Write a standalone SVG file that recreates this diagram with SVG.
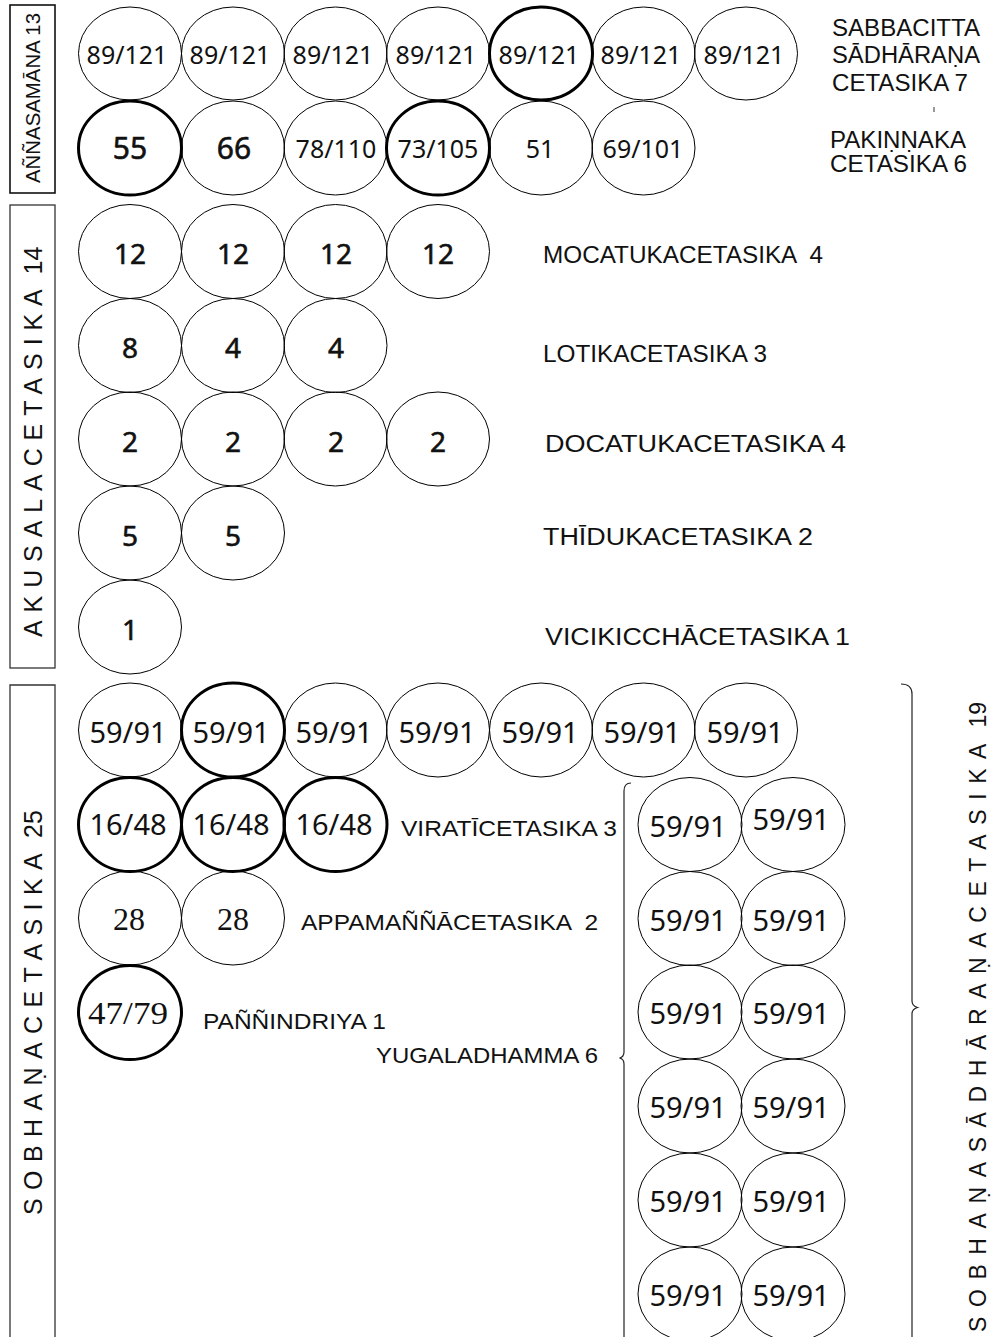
<svg xmlns="http://www.w3.org/2000/svg" width="997" height="1337" viewBox="0 0 997 1337">
<style>
  .c{fill:none;stroke:#000;stroke-width:1}
  .ct{fill:none;stroke:#000;stroke-width:3}
  .box{fill:none;stroke:#333;stroke-width:1.3}
  .n{font-family:"Noto Sans","Open Sans",sans-serif;text-anchor:middle;fill:#111}
  .n25{font-size:25px}
  .n30{font-size:30px;stroke:#111;stroke-width:0.6}
  .n27{font-size:28px;stroke:#111;stroke-width:0.6}
  .n29{font-size:29px}
  .s{font-family:"Liberation Serif","Times New Roman",serif;font-size:32px;text-anchor:middle;fill:#111}
  .l{font-family:"Liberation Sans",Arial,sans-serif;font-size:23.5px;fill:#111;white-space:pre}
  .ls{font-family:"Liberation Sans",Arial,sans-serif;font-size:22px;fill:#111;white-space:pre}
  .v{font-family:"Liberation Sans",Arial,sans-serif;fill:#111;white-space:pre}
  .br{fill:none;stroke:#222;stroke-width:1.2}
</style>

<!-- Group boxes and rotated titles -->
<g id="box-annasamana">
  <rect class="box" x="10" y="5" width="45" height="188" style="stroke:#111;stroke-width:1.6"/>
  <text class="v" font-size="21" transform="translate(40,183) rotate(-90)" textLength="170" lengthAdjust="spacingAndGlyphs">AÑÑASAMĀNA 13</text>
</g>
<g id="box-akusala">
  <rect class="box" x="10" y="205" width="45" height="463"/>
  <text class="v" font-size="25" transform="translate(42,637) rotate(-90)"><tspan letter-spacing="7.9">AKUSALACETASIKA</tspan><tspan letter-spacing="0"> 14</tspan></text>
</g>
<g id="box-sobhana">
  <path class="box" d="M10 1340 V685 H55 V1340"/>
  <text class="v" font-size="25" transform="translate(42,1215) rotate(-90)"><tspan letter-spacing="8.4">SOBHAṆACETASIKA</tspan><tspan letter-spacing="0"> 25</tspan></text>
</g>

<!-- Aññasamāna row 1 -->
<g id="row-sabbacitta">
  <ellipse class="c" cx="130" cy="53.5" rx="51.5" ry="46.5"/>
  <ellipse class="c" cx="233" cy="53.5" rx="51.5" ry="46.5"/>
  <ellipse class="c" cx="335.5" cy="53.5" rx="51.5" ry="46.5"/>
  <ellipse class="c" cx="438" cy="53.5" rx="51.5" ry="46.5"/>
  <ellipse class="ct" cx="541" cy="53.5" rx="51.5" ry="46.5"/>
  <ellipse class="c" cx="643.5" cy="53.5" rx="51.5" ry="46.5"/>
  <ellipse class="c" cx="746" cy="53.5" rx="51.5" ry="46.5"/>
  <text class="n n25" x="127" y="64">89/121</text>
  <text class="n n25" x="230" y="64">89/121</text>
  <text class="n n25" x="333" y="64">89/121</text>
  <text class="n n25" x="436" y="64">89/121</text>
  <text class="n n25" x="539" y="64">89/121</text>
  <text class="n n25" x="641" y="64">89/121</text>
  <text class="n n25" x="744" y="64">89/121</text>
</g>
<g id="label-sabbacitta">
  <text class="l" x="832" y="36" textLength="148" lengthAdjust="spacingAndGlyphs">SABBACITTA</text>
  <text class="l" x="832" y="63" textLength="148" lengthAdjust="spacingAndGlyphs">SĀDHĀRAṆA</text>
  <text class="l" x="832" y="91" textLength="136" lengthAdjust="spacingAndGlyphs">CETASIKA 7</text>
  <line x1="934" y1="107" x2="934" y2="112" stroke="#333" stroke-width="1"/>
</g>

<!-- Aññasamāna row 2 -->
<g id="row-pakinnaka">
  <ellipse class="ct" cx="130" cy="148" rx="51.5" ry="47"/>
  <ellipse class="c" cx="233" cy="148" rx="51.5" ry="47"/>
  <ellipse class="c" cx="335.5" cy="148" rx="51.5" ry="47"/>
  <ellipse class="ct" cx="438" cy="148" rx="51.5" ry="47"/>
  <ellipse class="c" cx="541" cy="148" rx="51.5" ry="47"/>
  <ellipse class="c" cx="643.5" cy="148" rx="51.5" ry="47"/>
  <text class="n n30" x="130" y="159">55</text>
  <text class="n n30" x="234" y="159">66</text>
  <text class="n n25" x="336" y="158">78/110</text>
  <text class="n n25" x="438" y="158">73/105</text>
  <text class="n n25" x="540" y="158">51</text>
  <text class="n n25" x="643" y="158">69/101</text>
</g>
<g id="label-pakinnaka">
  <text class="l" x="830" y="148" textLength="136" lengthAdjust="spacingAndGlyphs">PAKIṆṆAKA</text>
  <text class="l" x="830" y="172" textLength="137" lengthAdjust="spacingAndGlyphs">CETASIKA 6</text>
</g>

<!-- Akusala -->
<g id="row-mocatuka">
  <ellipse class="c" cx="130" cy="251.5" rx="51.5" ry="47"/>
  <ellipse class="c" cx="233" cy="251.5" rx="51.5" ry="47"/>
  <ellipse class="c" cx="335.5" cy="251.5" rx="51.5" ry="47"/>
  <ellipse class="c" cx="438" cy="251.5" rx="51.5" ry="47"/>
  <text class="n n27" x="130" y="264">12</text>
  <text class="n n27" x="233" y="264">12</text>
  <text class="n n27" x="336" y="264">12</text>
  <text class="n n27" x="438" y="264">12</text>
  <text class="l" x="543" y="263" textLength="280" lengthAdjust="spacingAndGlyphs">MOCATUKACETASIKA  4</text>
</g>
<g id="row-lotika">
  <ellipse class="c" cx="130" cy="345.5" rx="51.5" ry="47"/>
  <ellipse class="c" cx="233" cy="345.5" rx="51.5" ry="47"/>
  <ellipse class="c" cx="335.5" cy="345.5" rx="51.5" ry="47"/>
  <text class="n n27" x="130" y="358">8</text>
  <text class="n n27" x="233" y="358">4</text>
  <text class="n n27" x="336" y="358">4</text>
  <text class="l" x="543" y="362" textLength="224" lengthAdjust="spacingAndGlyphs">LOTIKACETASIKA 3</text>
</g>
<g id="row-docatuka">
  <ellipse class="c" cx="130" cy="439" rx="51.5" ry="47"/>
  <ellipse class="c" cx="233" cy="439" rx="51.5" ry="47"/>
  <ellipse class="c" cx="335.5" cy="439" rx="51.5" ry="47"/>
  <ellipse class="c" cx="438" cy="439" rx="51.5" ry="47"/>
  <text class="n n27" x="130" y="452">2</text>
  <text class="n n27" x="233" y="452">2</text>
  <text class="n n27" x="336" y="452">2</text>
  <text class="n n27" x="438" y="452">2</text>
  <text class="l" x="545" y="452" textLength="301" lengthAdjust="spacingAndGlyphs">DOCATUKACETASIKA 4</text>
</g>
<g id="row-thiduka">
  <ellipse class="c" cx="130" cy="533" rx="51.5" ry="47"/>
  <ellipse class="c" cx="233" cy="533" rx="51.5" ry="47"/>
  <text class="n n27" x="130" y="546">5</text>
  <text class="n n27" x="233" y="546">5</text>
  <text class="l" x="543" y="545" textLength="270" lengthAdjust="spacingAndGlyphs">THĪDUKACETASIKA 2</text>
</g>
<g id="row-vicikiccha">
  <ellipse class="c" cx="130" cy="627" rx="51.5" ry="47"/>
  <text class="n n27" x="130" y="640">1</text>
  <text class="l" x="545" y="645" textLength="305" lengthAdjust="spacingAndGlyphs">VICIKICCHĀCETASIKA 1</text>
</g>

<!-- Sobhana -->
<g id="row-sobhana-sadharana">
  <ellipse class="c" cx="130" cy="730" rx="51.5" ry="47"/>
  <ellipse class="ct" cx="233" cy="730" rx="51.5" ry="47"/>
  <ellipse class="c" cx="335.5" cy="730" rx="51.5" ry="47"/>
  <ellipse class="c" cx="438" cy="730" rx="51.5" ry="47"/>
  <ellipse class="c" cx="541" cy="730" rx="51.5" ry="47"/>
  <ellipse class="c" cx="643.5" cy="730" rx="51.5" ry="47"/>
  <ellipse class="c" cx="746" cy="730" rx="51.5" ry="47"/>
  <text class="n n29" x="128" y="743">59/91</text>
  <text class="n n29" x="231" y="743">59/91</text>
  <text class="n n29" x="334" y="743">59/91</text>
  <text class="n n29" x="437" y="743">59/91</text>
  <text class="n n29" x="540" y="743">59/91</text>
  <text class="n n29" x="642" y="743">59/91</text>
  <text class="n n29" x="745" y="743">59/91</text>
</g>
<g id="row-virati">
  <ellipse class="ct" cx="130" cy="824.5" rx="51.5" ry="47"/>
  <ellipse class="ct" cx="233" cy="824.5" rx="51.5" ry="47"/>
  <ellipse class="ct" cx="335.5" cy="824.5" rx="51.5" ry="47"/>
  <text class="n n29" x="128" y="835">16/48</text>
  <text class="n n29" x="231" y="835">16/48</text>
  <text class="n n29" x="334" y="835">16/48</text>
  <text class="ls" x="401" y="836" textLength="216" lengthAdjust="spacingAndGlyphs">VIRATĪCETASIKA 3</text>
</g>
<g id="row-appamanna">
  <ellipse class="c" cx="130" cy="918" rx="51.5" ry="47"/>
  <ellipse class="c" cx="233" cy="918" rx="51.5" ry="47"/>
  <text class="s" x="129" y="930">28</text>
  <text class="s" x="233" y="930">28</text>
  <text class="ls" x="301" y="930" textLength="297" lengthAdjust="spacingAndGlyphs">APPAMAÑÑĀCETASIKA  2</text>
</g>
<g id="row-panna">
  <ellipse class="ct" cx="130" cy="1012.5" rx="51.5" ry="47"/>
  <text class="s" x="128" y="1024" textLength="80" lengthAdjust="spacingAndGlyphs">47/79</text>
  <text class="ls" x="203" y="1029" textLength="183" lengthAdjust="spacingAndGlyphs">PAÑÑINDRIYA 1</text>
</g>

<!-- Yugaladhamma -->
<g id="yugala">
  <ellipse class="c" cx="690" cy="824.5" rx="52" ry="47"/>
  <ellipse class="c" cx="793" cy="824.5" rx="52" ry="47"/>
  <ellipse class="c" cx="690" cy="918.5" rx="52" ry="47"/>
  <ellipse class="c" cx="793" cy="918.5" rx="52" ry="47"/>
  <ellipse class="c" cx="690" cy="1012" rx="52" ry="47"/>
  <ellipse class="c" cx="793" cy="1012" rx="52" ry="47"/>
  <ellipse class="c" cx="690" cy="1106" rx="52" ry="47"/>
  <ellipse class="c" cx="793" cy="1106" rx="52" ry="47"/>
  <ellipse class="c" cx="690" cy="1200" rx="52" ry="47"/>
  <ellipse class="c" cx="793" cy="1200" rx="52" ry="47"/>
  <ellipse class="c" cx="690" cy="1294" rx="52" ry="47"/>
  <ellipse class="c" cx="793" cy="1294" rx="52" ry="47"/>
  <text class="n n29" x="688" y="837">59/91</text>
  <text class="n n29" x="791" y="830">59/91</text>
  <text class="n n29" x="688" y="931">59/91</text>
  <text class="n n29" x="791" y="931">59/91</text>
  <text class="n n29" x="688" y="1024">59/91</text>
  <text class="n n29" x="791" y="1024">59/91</text>
  <text class="n n29" x="688" y="1118">59/91</text>
  <text class="n n29" x="791" y="1118">59/91</text>
  <text class="n n29" x="688" y="1212">59/91</text>
  <text class="n n29" x="791" y="1212">59/91</text>
  <text class="n n29" x="688" y="1306">59/91</text>
  <text class="n n29" x="791" y="1306">59/91</text>
  <text class="ls" x="376" y="1063" textLength="222" lengthAdjust="spacingAndGlyphs">YUGALADHAMMA 6</text>
</g>

<!-- Braces -->
<g id="connectors">
  <path class="br" d="M631 783 Q624 783 624 791 L624 1052 Q624 1057 619.5 1058 Q624 1059 624 1064 L624 1340"/>
  <path class="br" d="M901 684 Q912 684 912 694 L912 1001 Q912 1006 917.5 1007.5 Q912 1009 912 1014 L912 1340"/>
</g>
<g id="label-sobhana-sadharana">
  <text class="v" font-size="23" transform="translate(986,1332) rotate(-90)"><tspan letter-spacing="9.6">SOBHAṆASĀDHĀRAṆACETASIKA</tspan><tspan letter-spacing="0"> 19</tspan></text>
</g>
</svg>
